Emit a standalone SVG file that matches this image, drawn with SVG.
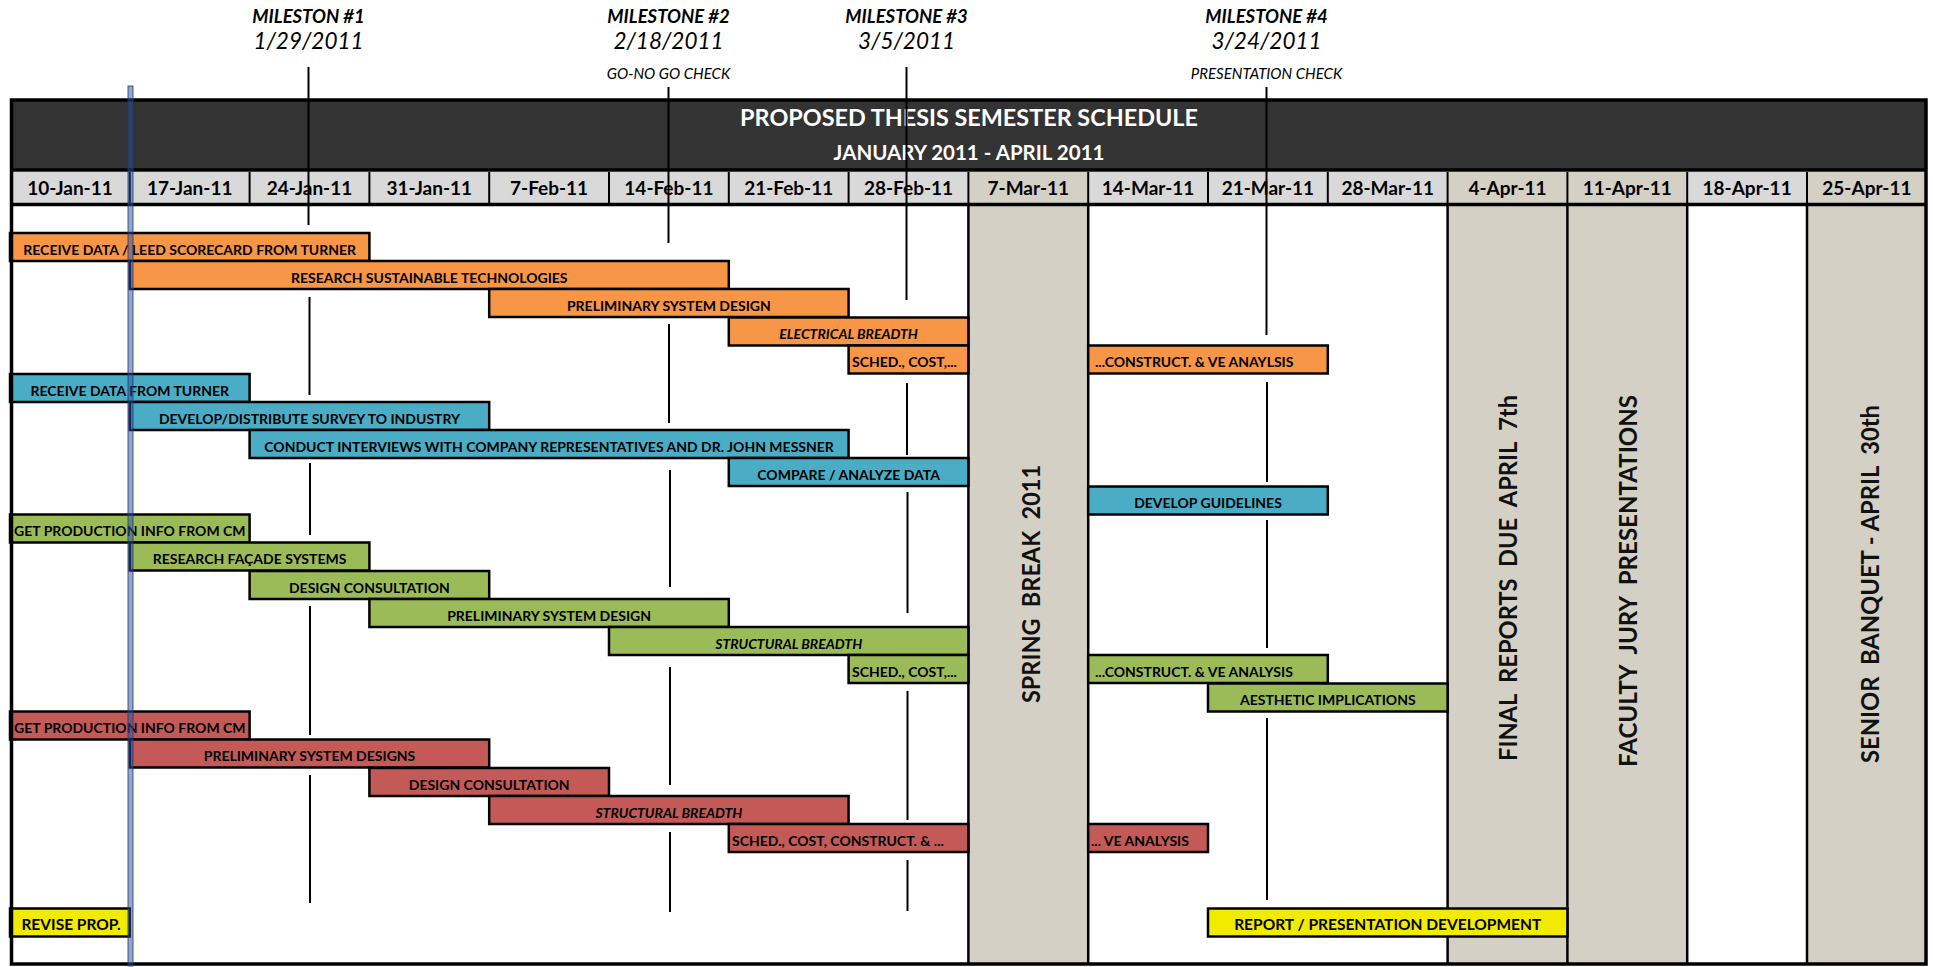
<svg xmlns="http://www.w3.org/2000/svg" width="1933" height="967" viewBox="0 0 1933 967">
<style>
.f{font-family:Lato,"Liberation Sans",sans-serif}
.bl{font-family:Lato,"Liberation Sans",sans-serif;font-weight:700;font-size:14px;fill:#000;text-anchor:middle}
.bl.i{font-style:italic}
.bl.s{text-anchor:start}
.yl{font-family:Lato,"Liberation Sans",sans-serif;font-weight:700;font-size:15.5px;fill:#000;text-anchor:middle}
.dt{font-family:Lato,"Liberation Sans",sans-serif;font-weight:700;font-size:19px;fill:#000;text-anchor:middle}
.mt{font-family:Lato,"Liberation Sans",sans-serif;font-weight:700;font-style:italic;font-size:18.5px;fill:#000;text-anchor:middle}
.md{font-family:Lato,"Liberation Sans",sans-serif;font-style:italic;font-size:22.5px;fill:#000;text-anchor:middle}
.ms{font-family:Lato,"Liberation Sans",sans-serif;font-style:italic;font-size:15px;fill:#000;text-anchor:middle}
.vt{font-family:Lato,"Liberation Sans",sans-serif;font-weight:700;font-size:24.5px;fill:#111;text-anchor:middle;white-space:pre}
.bar{stroke:#000;stroke-width:2.5}
.or{fill:#F79646}.te{fill:#4BACC6}.gr{fill:#9BBB59}.rd{fill:#C45A57}.ye{fill:#F0EB00}
.gcol{fill:#D4D0C5}
.ml{stroke:#000;stroke-width:2}
.vl{stroke:#000;stroke-width:2.5}
.dv{stroke:#000;stroke-width:2}
</style>
<rect x="0" y="0" width="1933" height="967" fill="#fff"/>

<g id="break-columns">
<rect class="gcol" x="968.4" y="172" width="119.8" height="792"/>
<rect class="gcol" x="1447.6" y="172" width="119.8" height="792"/>
<rect class="gcol" x="1567.4" y="172" width="119.8" height="792"/>
<rect class="gcol" x="1807" y="172" width="119.8" height="792"/>
<line class="vl" x1="968.4" y1="205" x2="968.4" y2="963"/>
<line class="vl" x1="1088.2" y1="205" x2="1088.2" y2="963"/>
<line class="vl" x1="1447.6" y1="205" x2="1447.6" y2="963"/>
<line class="vl" x1="1567.4" y1="205" x2="1567.4" y2="963"/>
<line class="vl" x1="1687.2" y1="205" x2="1687.2" y2="963"/>
<line class="vl" x1="1807" y1="205" x2="1807" y2="963"/>
</g>

<g id="header">
<rect x="10" y="100" width="1917" height="70" fill="#333333"/>
<text class="f" x="969" y="126" font-size="23.4" font-weight="700" fill="#fff" text-anchor="middle">PROPOSED THESIS SEMESTER SCHEDULE</text>
<text class="f" x="969" y="160" font-size="20.5" font-weight="700" fill="#fff" text-anchor="middle">JANUARY 2011 - APRIL 2011</text>
<rect x="10" y="172" width="1917" height="32" fill="#D9D9D9"/>
<rect class="gcol" x="968.4" y="172" width="119.8" height="32"/>
<rect class="gcol" x="1447.6" y="172" width="239.6" height="32"/>
<rect class="gcol" x="1807" y="172" width="119.8" height="32"/>
<g class="dv">
<line x1="129.8" y1="172" x2="129.8" y2="204"/><line x1="249.6" y1="172" x2="249.6" y2="204"/>
<line x1="369.4" y1="172" x2="369.4" y2="204"/><line x1="489.2" y1="172" x2="489.2" y2="204"/>
<line x1="609" y1="172" x2="609" y2="204"/><line x1="728.8" y1="172" x2="728.8" y2="204"/>
<line x1="848.6" y1="172" x2="848.6" y2="204"/><line x1="968.4" y1="172" x2="968.4" y2="204"/>
<line x1="1088.2" y1="172" x2="1088.2" y2="204"/><line x1="1208" y1="172" x2="1208" y2="204"/>
<line x1="1327.8" y1="172" x2="1327.8" y2="204"/><line x1="1447.6" y1="172" x2="1447.6" y2="204"/>
<line x1="1567.4" y1="172" x2="1567.4" y2="204"/><line x1="1687.2" y1="172" x2="1687.2" y2="204"/>
<line x1="1807" y1="172" x2="1807" y2="204"/>
</g>
<text class="dt" x="70" y="195">10-Jan-11</text>
<text class="dt" x="189.7" y="195">17-Jan-11</text>
<text class="dt" x="309.5" y="195">24-Jan-11</text>
<text class="dt" x="429.3" y="195">31-Jan-11</text>
<text class="dt" x="549.1" y="195">7-Feb-11</text>
<text class="dt" x="668.9" y="195">14-Feb-11</text>
<text class="dt" x="788.7" y="195">21-Feb-11</text>
<text class="dt" x="908.5" y="195">28-Feb-11</text>
<text class="dt" x="1028.3" y="195">7-Mar-11</text>
<text class="dt" x="1148.1" y="195">14-Mar-11</text>
<text class="dt" x="1267.9" y="195">21-Mar-11</text>
<text class="dt" x="1387.7" y="195">28-Mar-11</text>
<text class="dt" x="1507.5" y="195">4-Apr-11</text>
<text class="dt" x="1627.3" y="195">11-Apr-11</text>
<text class="dt" x="1747.1" y="195">18-Apr-11</text>
<text class="dt" x="1866.9" y="195">25-Apr-11</text>
<line x1="10" y1="170" x2="1927" y2="170" stroke="#000" stroke-width="3.5"/>
<line x1="10" y1="204.5" x2="1927" y2="204.5" stroke="#000" stroke-width="3.5"/>
</g>

<g id="milestone-labels">
<text class="mt" x="308.5" y="23">MILESTON #1</text>
<text class="md" x="308.5" y="49">1/29/2011</text>
<text class="mt" x="668.5" y="23">MILESTONE #2</text>
<text class="md" x="668.5" y="49">2/18/2011</text>
<text class="ms" x="668.5" y="79">GO-NO GO CHECK</text>
<text class="mt" x="906.5" y="23">MILESTONE #3</text>
<text class="md" x="906.5" y="49">3/5/2011</text>
<text class="mt" x="1266.5" y="23">MILESTONE #4</text>
<text class="md" x="1266.5" y="49">3/24/2011</text>
<text class="ms" x="1266.5" y="79">PRESENTATION CHECK</text>
</g>

<g id="connectors">
<line class="ml" x1="308.5" y1="67" x2="308.5" y2="225"/>
<line class="ml" x1="309.5" y1="297" x2="309.5" y2="395"/>
<line class="ml" x1="310" y1="463" x2="310" y2="535"/>
<line class="ml" x1="310" y1="606" x2="310" y2="735"/>
<line class="ml" x1="310" y1="775" x2="310" y2="903"/>
<line class="ml" x1="668.5" y1="87" x2="668.5" y2="243"/>
<line class="ml" x1="669" y1="324" x2="669" y2="423"/>
<line class="ml" x1="670" y1="470" x2="670" y2="587"/>
<line class="ml" x1="670" y1="667" x2="670" y2="785"/>
<line class="ml" x1="670" y1="832" x2="670" y2="912"/>
<line class="ml" x1="906.5" y1="67" x2="906.5" y2="300"/>
<line class="ml" x1="907" y1="383" x2="907" y2="455"/>
<line class="ml" x1="907.5" y1="492" x2="907.5" y2="613"/>
<line class="ml" x1="907.5" y1="691" x2="907.5" y2="820"/>
<line class="ml" x1="907.5" y1="860" x2="907.5" y2="911"/>
<line class="ml" x1="1266.5" y1="87" x2="1266.5" y2="335"/>
<line class="ml" x1="1267" y1="382" x2="1267" y2="482"/>
<line class="ml" x1="1267" y1="520" x2="1267" y2="648"/>
<line class="ml" x1="1267" y1="718" x2="1267" y2="900"/>
</g>

<g id="o1"><rect class="bar or" x="10" y="233" width="359.4" height="28"/><text class="bl" x="189.7" y="254.5">RECEIVE DATA / LEED SCORECARD FROM TURNER</text></g>
<g id="o2"><rect class="bar or" x="129.8" y="261" width="599" height="28"/><text class="bl" x="429.3" y="282.5">RESEARCH SUSTAINABLE TECHNOLOGIES</text></g>
<g id="o3"><rect class="bar or" x="489.2" y="289" width="359.4" height="28"/><text class="bl" x="668.9" y="310.5">PRELIMINARY SYSTEM DESIGN</text></g>
<g id="o4"><rect class="bar or" x="728.8" y="317.5" width="239.6" height="28"/><text class="bl i" x="848.6" y="339">ELECTRICAL BREADTH</text></g>
<g id="o5a"><rect class="bar or" x="848.6" y="345.5" width="119.8" height="28"/><text class="bl s" x="852" y="367">SCHED., COST,...</text></g>
<g id="o5b"><rect class="bar or" x="1088.2" y="345.5" width="239.6" height="28"/><text class="bl s" x="1095" y="367">...CONSTRUCT. &amp; VE ANAYLSIS</text></g>

<g id="t1"><rect class="bar te" x="10" y="374" width="239.6" height="28"/><text class="bl" x="129.8" y="395.5">RECEIVE DATA FROM TURNER</text></g>
<g id="t2"><rect class="bar te" x="129.8" y="402" width="359.4" height="28"/><text class="bl" x="309.5" y="423.5">DEVELOP/DISTRIBUTE SURVEY TO INDUSTRY</text></g>
<g id="t3"><rect class="bar te" x="249.6" y="430" width="599" height="28"/><text class="bl" x="549.1" y="451.5">CONDUCT INTERVIEWS WITH COMPANY REPRESENTATIVES AND DR. JOHN MESSNER</text></g>
<g id="t4"><rect class="bar te" x="728.8" y="458" width="239.6" height="28"/><text class="bl" x="848.6" y="479.5">COMPARE / ANALYZE DATA</text></g>
<g id="t5"><rect class="bar te" x="1088.2" y="486.5" width="239.6" height="28"/><text class="bl" x="1208" y="508">DEVELOP GUIDELINES</text></g>

<g id="g1"><rect class="bar gr" x="10" y="514.5" width="239.6" height="28"/><text class="bl" x="129.8" y="536">GET PRODUCTION INFO FROM CM</text></g>
<g id="g2"><rect class="bar gr" x="129.8" y="542.5" width="239.6" height="28"/><text class="bl" x="249.6" y="564">RESEARCH FAÇADE SYSTEMS</text></g>
<g id="g3"><rect class="bar gr" x="249.6" y="571" width="239.6" height="28"/><text class="bl" x="369.4" y="592.5">DESIGN CONSULTATION</text></g>
<g id="g4"><rect class="bar gr" x="369.4" y="599" width="359.4" height="28"/><text class="bl" x="549.1" y="620.5">PRELIMINARY SYSTEM DESIGN</text></g>
<g id="g5"><rect class="bar gr" x="609" y="627" width="359.4" height="28"/><text class="bl i" x="788.7" y="648.5">STRUCTURAL BREADTH</text></g>
<g id="g6a"><rect class="bar gr" x="848.6" y="655" width="119.8" height="28"/><text class="bl s" x="852" y="676.5">SCHED., COST,...</text></g>
<g id="g6b"><rect class="bar gr" x="1088.2" y="655" width="239.6" height="28"/><text class="bl s" x="1095" y="676.5">...CONSTRUCT. &amp; VE ANALYSIS</text></g>
<g id="g7"><rect class="bar gr" x="1208" y="683.5" width="239.6" height="28"/><text class="bl" x="1327.8" y="705">AESTHETIC IMPLICATIONS</text></g>

<g id="r1"><rect class="bar rd" x="10" y="711.5" width="239.6" height="28"/><text class="bl" x="129.8" y="733">GET PRODUCTION INFO FROM CM</text></g>
<g id="r2"><rect class="bar rd" x="129.8" y="739.5" width="359.4" height="28"/><text class="bl" x="309.5" y="761">PRELIMINARY SYSTEM DESIGNS</text></g>
<g id="r3"><rect class="bar rd" x="369.4" y="768" width="239.6" height="28"/><text class="bl" x="489.2" y="789.5">DESIGN CONSULTATION</text></g>
<g id="r4"><rect class="bar rd" x="489.2" y="796" width="359.4" height="28"/><text class="bl i" x="668.9" y="817.5">STRUCTURAL BREADTH</text></g>
<g id="r5a"><rect class="bar rd" x="728.8" y="824" width="239.6" height="28"/><text class="bl s" x="732" y="845.5">SCHED., COST, CONSTRUCT. &amp; ...</text></g>
<g id="r5b"><rect class="bar rd" x="1088.2" y="824" width="119.8" height="28"/><text class="bl s" x="1091" y="845.5">... VE ANALYSIS</text></g>

<g id="y1"><rect class="bar ye" x="10" y="908.5" width="119.8" height="28"/><text class="yl" x="71" y="930">REVISE PROP.</text></g>
<g id="y2"><rect class="bar ye" x="1208" y="908.5" width="359.4" height="28"/><text class="yl" x="1387.7" y="930">REPORT / PRESENTATION DEVELOPMENT</text></g>

<g id="spring-break"><text class="vt" xml:space="preserve" font-size="27" transform="translate(1040,584) rotate(-90)" textLength="238" lengthAdjust="spacingAndGlyphs">SPRING  BREAK  2011</text></g>
<g id="final-reports"><text class="vt" xml:space="preserve" transform="translate(1517,578) rotate(-90)" textLength="366" lengthAdjust="spacingAndGlyphs">FINAL  REPORTS  DUE  APRIL  7th</text></g>
<g id="faculty-jury"><text class="vt" xml:space="preserve" transform="translate(1636.5,581) rotate(-90)" textLength="372" lengthAdjust="spacingAndGlyphs">FACULTY  JURY  PRESENTATIONS</text></g>
<g id="senior-banquet"><text class="vt" xml:space="preserve" transform="translate(1879,584) rotate(-90)" textLength="358" lengthAdjust="spacingAndGlyphs">SENIOR  BANQUET - APRIL  30th</text></g>

<g id="frame">
<rect x="11.5" y="100" width="1914.5" height="864" fill="none" stroke="#000" stroke-width="3.5"/>
</g>

<g id="today-line">
<rect x="128" y="86" width="5" height="880" fill="#2E4E9A" fill-opacity="0.5" stroke="#1F3A73" stroke-width="0.8"/>
</g>
</svg>
